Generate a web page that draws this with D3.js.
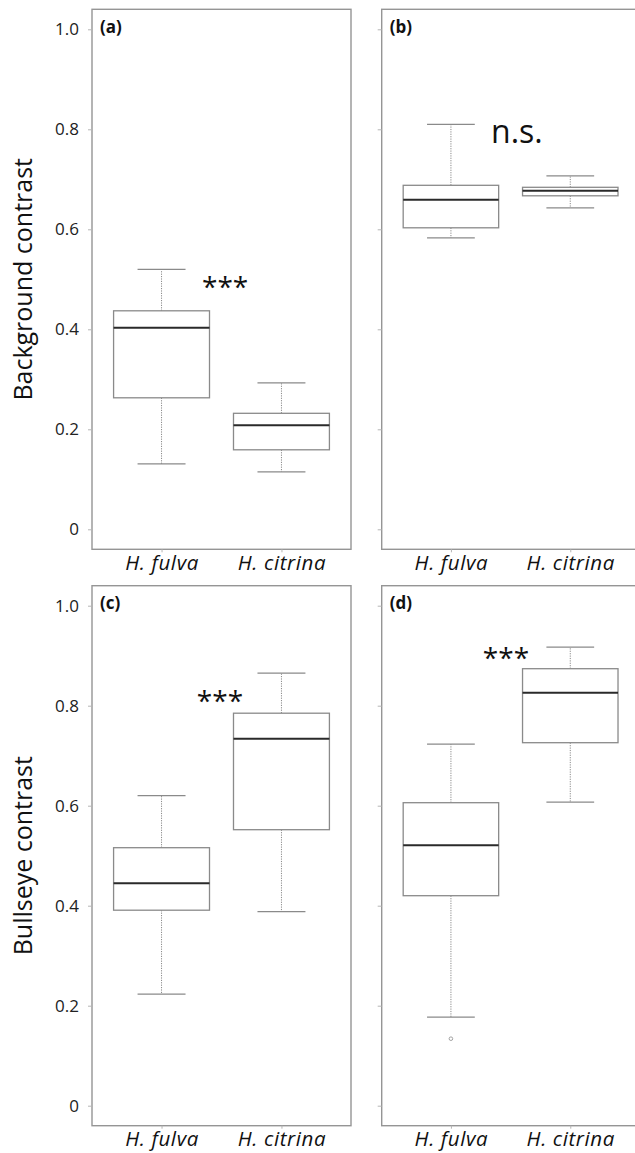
<!DOCTYPE html>
<html><head><meta charset="utf-8">
<script src="https://cdn.jsdelivr.net/npm/d3@7"></script>
<style>body{margin:0;background:#fff}svg{display:block}text{font-family:"Open Sans",sans-serif}</style>
</head><body>
<script>
// ---- data ----
const categories = ["H. fulva", "H. citrina"];
const panelLabels = ["(a)", "(b)", "(c)", "(d)"];
const rowTitles = ["Background contrast", "Bullseye contrast"];
const yTicks = [0, 0.2, 0.4, 0.6, 0.8, 1.0];
const yTickLabels = ["0", "0.2", "0.4", "0.6", "0.8", "1.0"];
// five-number summaries: [whiskerLow, q1, median, q3, whiskerHigh]
const panelA = [[0.131, 0.263, 0.403, 0.437, 0.520], [0.115, 0.159, 0.208, 0.232, 0.293]];
const panelB = [[0.583, 0.603, 0.659, 0.688, 0.810], [0.643, 0.667, 0.677, 0.684, 0.707]];
const panelC = [[0.223, 0.391, 0.445, 0.516, 0.620], [0.388, 0.552, 0.734, 0.785, 0.865]];
const panelD = [[0.177, 0.420, 0.521, 0.606, 0.723], [0.607, 0.726, 0.826, 0.874, 0.917]];
const outliersD = [[0.134], []];
const annotations = ["***", "n.s.", "***", "***"];
const annotX = [0.53, 0.553, 0.487, 0.461];   // fraction of step from first category
const annotY = [0.495, 0.772, 0.821, 0.906];  // value units

const W = 635, H = 1153;
const svg = d3.select("body").append("svg").attr("width", W).attr("height", H);

const panels = [
  {box: panelA, out: [[], []], x0: 92, x1: 351, y0: 9.3, y1: 549.3, labels: true},
  {box: panelB, out: [[], []], x0: 381.7, x1: 639.5, y0: 9.3, y1: 549.3, labels: false},
  {box: panelC, out: [[], []], x0: 92, x1: 351, y0: 585.7, y1: 1125.7, labels: true},
  {box: panelD, out: outliersD, x0: 381.7, x1: 639.5, y0: 585.7, y1: 1125.7, labels: false}
];

const frameCol = "#959595", boxCol = "#8a8a8a", medCol = "#2a2a2a";

panels.forEach((p, i) => {
  const g = svg.append("g");
  const x = d3.scalePoint().domain(categories).range([p.x0, p.x1]).padding(0.58);
  const y = d3.scaleLinear().domain([-0.04, 1.04]).range([p.y1, p.y0]);
  const step = x.step();
  const bw = 0.8 * step, sw = 0.4 * step;

  // frame
  g.append("rect").attr("x", p.x0).attr("y", p.y0).attr("width", p.x1 - p.x0).attr("height", p.y1 - p.y0)
    .attr("fill", "none").attr("stroke", frameCol).attr("stroke-width", 1.4);

  // y axis
  const ya = d3.axisLeft(y).tickValues(yTicks).tickSize(4).tickPadding(9)
    .tickFormat((d, k) => p.labels ? yTickLabels[k] : "");
  const yg = g.append("g").attr("transform", `translate(${p.x0},0)`).call(ya);
  yg.select(".domain").remove();
  yg.selectAll(".tick line").attr("stroke", "#b5b5b5");
  yg.selectAll(".tick text").attr("font-size", 17).attr("fill", "#222").attr("font-family", "Open Sans");

  // x axis
  const xa = d3.axisBottom(x).tickSize(3).tickPadding(3);
  const xg = g.append("g").attr("transform", `translate(0,${p.y1})`).call(xa);
  xg.select(".domain").remove();
  xg.selectAll(".tick line").attr("stroke", "#b5b5b5");
  xg.selectAll(".tick text").attr("font-size", 20.5).attr("font-style", "italic").attr("fill", "#111")
    .attr("letter-spacing", 0.6).attr("font-family", "Open Sans").attr("dy", "0.72em");

  // boxes
  p.box.forEach((s, k) => {
    const cx = x(categories[k]);
    const [lo, q1, med, q3, hi] = s;
    // whiskers (dotted)
    g.append("line").attr("x1", cx).attr("x2", cx).attr("y1", y(q3)).attr("y2", y(hi))
      .attr("stroke", "#8a8a8a").attr("stroke-dasharray", "1.2,1.2").attr("stroke-width", 1);
    g.append("line").attr("x1", cx).attr("x2", cx).attr("y1", y(q1)).attr("y2", y(lo))
      .attr("stroke", "#8a8a8a").attr("stroke-dasharray", "1.2,1.2").attr("stroke-width", 1);
    // staples
    [lo, hi].forEach(v => g.append("line").attr("x1", cx - sw / 2).attr("x2", cx + sw / 2)
      .attr("y1", y(v)).attr("y2", y(v)).attr("stroke", boxCol).attr("stroke-width", 1.3));
    // box
    g.append("rect").attr("x", cx - bw / 2).attr("y", y(q3)).attr("width", bw).attr("height", y(q1) - y(q3))
      .attr("fill", "#fff").attr("stroke", boxCol).attr("stroke-width", 1.3);
    // median
    g.append("line").attr("x1", cx - bw / 2).attr("x2", cx + bw / 2).attr("y1", y(med)).attr("y2", y(med))
      .attr("stroke", medCol).attr("stroke-width", 2);
    // outliers
    p.out[k].forEach(v => g.append("circle").attr("cx", cx).attr("cy", y(v)).attr("r", 1.8)
      .attr("fill", "none").attr("stroke", "#999").attr("stroke-width", 0.9));
  });

  // panel label
  g.append("text").attr("x", p.x0 + 8).attr("y", p.y0 + 23.5).text(panelLabels[i])
    .attr("font-size", 17).attr("font-weight", "bold").attr("fill", "#111");

  // annotation
  const ax = x(categories[0]) + annotX[i] * step;
  const isStars = annotations[i] === "***";
  const fs = isStars ? 28 : 32;
  g.append("text").attr("x", ax).attr("text-anchor", "middle")
    .attr("y", isStars ? y(annotY[i]) + 0.55 * fs : y(annotY[i]))
    .attr("font-size", fs).attr("fill", "#111").text(annotations[i]);

  // row title
  if (p.labels) {
    const cy = (p.y0 + p.y1) / 2;
    svg.append("text").attr("transform", `translate(32,${cy}) rotate(-90)`).attr("text-anchor", "middle")
      .attr("font-size", 25).attr("fill", "#111").text(rowTitles[i === 0 ? 0 : 1]);
  }
});
</script>
</body></html>
